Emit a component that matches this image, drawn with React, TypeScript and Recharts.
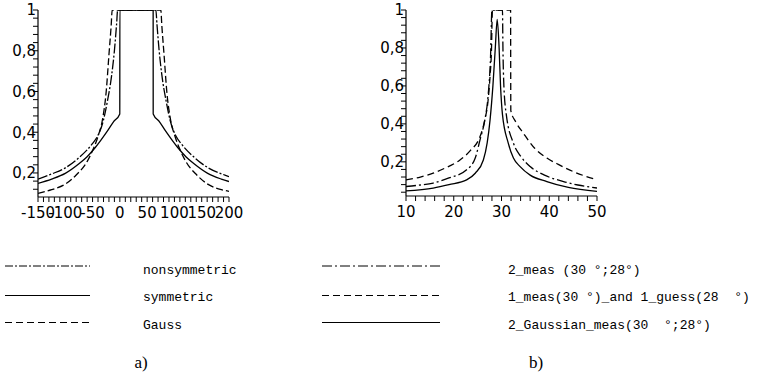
import React from 'react'
import { LineChart, Line, XAxis, YAxis } from 'recharts'

// ---- panel a) ----
const aNonsymmetric = [
  { x: -150, y: 0.17 }, { x: -125, y: 0.195 }, { x: -100, y: 0.225 }, { x: -75, y: 0.275 },
  { x: -50, y: 0.345 }, { x: -41, y: 0.38 }, { x: -30, y: 0.46 }, { x: -23, y: 0.55 },
  { x: -15, y: 0.68 }, { x: -10, y: 0.8 }, { x: -6, y: 0.93 }, { x: -4, y: 1 },
  { x: 66, y: 1 }, { x: 68, y: 0.93 }, { x: 72, y: 0.8 }, { x: 77, y: 0.68 },
  { x: 85, y: 0.55 }, { x: 92, y: 0.46 }, { x: 103, y: 0.38 }, { x: 112, y: 0.345 },
  { x: 137, y: 0.275 }, { x: 162, y: 0.225 }, { x: 187, y: 0.195 }, { x: 200, y: 0.182 },
]
const aSymmetric = [
  { x: -150, y: 0.149 }, { x: -125, y: 0.17 }, { x: -100, y: 0.198 }, { x: -75, y: 0.245 },
  { x: -60, y: 0.28 }, { x: -45, y: 0.325 }, { x: -35, y: 0.36 }, { x: -23, y: 0.405 },
  { x: -12, y: 0.45 }, { x: -0.1, y: 0.49 }, { x: 0, y: 1 }, { x: 61, y: 1 },
  { x: 61.1, y: 0.49 }, { x: 73, y: 0.45 }, { x: 84, y: 0.405 }, { x: 96, y: 0.36 },
  { x: 106, y: 0.325 }, { x: 121, y: 0.28 }, { x: 136, y: 0.245 }, { x: 161, y: 0.198 },
  { x: 186, y: 0.17 }, { x: 200, y: 0.158 },
]
const aGauss = [
  { x: -150, y: 0.1 }, { x: -125, y: 0.118 }, { x: -100, y: 0.145 }, { x: -80, y: 0.19 },
  { x: -60, y: 0.256 }, { x: -50, y: 0.31 }, { x: -40, y: 0.38 }, { x: -32, y: 0.46 },
  { x: -25, y: 0.6 }, { x: -20, y: 0.78 }, { x: -16, y: 0.92 }, { x: -14, y: 1 },
  { x: 75, y: 1 }, { x: 77, y: 0.92 }, { x: 81, y: 0.78 }, { x: 86, y: 0.6 },
  { x: 93, y: 0.46 }, { x: 101, y: 0.38 }, { x: 111, y: 0.31 }, { x: 121, y: 0.256 },
  { x: 141, y: 0.19 }, { x: 161, y: 0.145 }, { x: 186, y: 0.118 }, { x: 200, y: 0.11 },
]
const aXTicks = [
  -150, -140, -130, -120, -110, -100, -90, -80, -70, -60, -50, -40, -30, -20, -10, 0,
  10, 20, 30, 40, 50, 60, 70, 80, 90, 100, 110, 120, 130, 140, 150, 160, 170, 180, 190, 200,
]
const aXLabels = [-150, -100, -50, 0, 50, 100, 150, 200]

// ---- panel b) ----
const bTwoMeas = [
  { x: 10, y: 0.07 }, { x: 13, y: 0.078 }, { x: 15.7, y: 0.088 }, { x: 19, y: 0.115 },
  { x: 22.7, y: 0.158 }, { x: 24.5, y: 0.22 }, { x: 25.5, y: 0.316 }, { x: 26.5, y: 0.42 },
  { x: 27.2, y: 0.55 }, { x: 27.7, y: 0.75 }, { x: 28, y: 1 }, { x: 30.2, y: 1 },
  { x: 30.3, y: 0.8 }, { x: 30.5, y: 0.6 }, { x: 31, y: 0.45 }, { x: 32.5, y: 0.298 },
  { x: 34, y: 0.23 }, { x: 36, y: 0.175 }, { x: 39, y: 0.13 }, { x: 43, y: 0.096 },
  { x: 46, y: 0.078 }, { x: 50, y: 0.062 },
]
const bMeasGuess = [
  { x: 10, y: 0.105 }, { x: 13, y: 0.12 }, { x: 15.7, y: 0.14 }, { x: 18, y: 0.165 },
  { x: 21.3, y: 0.21 }, { x: 23.5, y: 0.26 }, { x: 25.5, y: 0.333 }, { x: 26.5, y: 0.42 },
  { x: 27.2, y: 0.526 }, { x: 27.6, y: 0.65 }, { x: 27.9, y: 0.79 }, { x: 28.1, y: 1 },
  { x: 31.9, y: 1 }, { x: 31.95, y: 0.47 }, { x: 33, y: 0.41 }, { x: 34.6, y: 0.35 },
  { x: 37, y: 0.27 }, { x: 39.5, y: 0.22 }, { x: 42, y: 0.185 }, { x: 45, y: 0.149 },
  { x: 47.5, y: 0.125 }, { x: 50, y: 0.105 },
]
const bGaussian = [
  { x: 10, y: 0.047 }, { x: 15.7, y: 0.062 }, { x: 19, y: 0.08 }, { x: 22.7, y: 0.105 },
  { x: 24.5, y: 0.14 }, { x: 26.2, y: 0.21 }, { x: 27, y: 0.3 }, { x: 27.6, y: 0.42 },
  { x: 28.2, y: 0.6 }, { x: 28.7, y: 0.8 }, { x: 29.1, y: 0.95 }, { x: 29.5, y: 0.8 },
  { x: 29.8, y: 0.6 }, { x: 30.2, y: 0.45 }, { x: 31.4, y: 0.3 }, { x: 32.5, y: 0.22 },
  { x: 33.9, y: 0.175 }, { x: 36, y: 0.13 }, { x: 39.5, y: 0.096 }, { x: 44, y: 0.065 },
  { x: 50, y: 0.044 },
]
const bXTicks = [10, 12, 14, 16, 18, 20, 22, 24, 26, 28, 30, 32, 34, 36, 38, 40, 42, 44, 46, 48, 50]
const bXLabels = [10, 20, 30, 40, 50]

const yTicksA = [0.12, 0.16, 0.2, 0.24, 0.28, 0.32, 0.36, 0.4, 0.44, 0.48, 0.52, 0.56, 0.6, 0.64, 0.68, 0.72, 0.76, 0.8, 0.84, 0.88, 0.92, 0.96, 1]
const yTicksB = [0.04, 0.08, 0.12, 0.16, 0.2, 0.24, 0.28, 0.32, 0.36, 0.4, 0.44, 0.48, 0.52, 0.56, 0.6, 0.64, 0.68, 0.72, 0.76, 0.8, 0.84, 0.88, 0.92, 0.96, 1]
const yLabels = [0.2, 0.4, 0.6, 0.8, 1]

const legendA = ['nonsymmetric', 'symmetric', 'Gauss']
const legendB = ['2_meas (30 °;28°)', '1_meas(30 °)_and 1_guess(28  °)', '2_Gaussian_meas(30  °;28°)']

const DASH_DOT_A = '10 2 2 2'
const DASH_A = '7 3'
const DASH_DOT_B = '10 3 2 3'
const DASH_B = '7 4'

const tickFont = { fontSize: 15, fontFamily: 'DejaVu Sans', fill: '#000' }

const isLabel = (v: number, list: number[]) => list.some((l) => Math.abs(l - v) < 1e-6)
const fmtY = (v: number) => (isLabel(v, yLabels) ? (v === 1 ? '1' : v.toFixed(1).replace('.', ',')) : '')

function Panel(props: {
  left: number
  xDomain: [number, number]
  yDomain: [number, number]
  xTicks: number[]
  xLabels: number[]
  yTicks: number[]
  xHeight: number
  series: { data: { x: number; y: number }[]; dash?: string }[]
}) {
  const { left, xDomain, yDomain, xTicks, xLabels, yTicks, xHeight, series } = props
  return (
    <div style={{ position: 'absolute', left, top: 0 }}>
      <LineChart width={260} height={230} margin={{ top: 10, right: 31, bottom: 0, left: 0 }}>
        <XAxis
          type="number"
          dataKey="x"
          domain={xDomain}
          allowDataOverflow
          ticks={xTicks}
          interval={0}
          tickFormatter={(v: number) => (isLabel(v, xLabels) ? String(v) : '')}
          height={xHeight}
          tickSize={5}
          tickMargin={5}
          tick={tickFont}
          axisLine={{ stroke: '#000', strokeWidth: 1.2 }}
          tickLine={{ stroke: '#000' }}
        />
        <YAxis
          type="number"
          dataKey="y"
          domain={yDomain}
          allowDataOverflow
          ticks={yTicks}
          interval={0}
          tickFormatter={fmtY}
          width={38}
          tickSize={5}
          tickMargin={-3}
          tick={tickFont}
          axisLine={{ stroke: '#000', strokeWidth: 1.2 }}
          tickLine={{ stroke: '#000' }}
        />
        {series.map((s, i) => (
          <Line
            key={i}
            data={s.data}
            dataKey="y"
            type="monotone"
            stroke="#000"
            strokeWidth={1.3}
            strokeDasharray={s.dash}
            dot={false}
            activeDot={false}
            isAnimationActive={false}
          />
        ))}
      </LineChart>
    </div>
  )
}

export default function App() {
  const mono = { fontFamily: 'Liberation Mono', fontSize: 13, fill: '#000' }
  const rowsLine = [266, 295.5, 322.5]
  const rowsText = [270, 297.5, 325]
  const dashA = ['8 2 2 2', undefined, '7 4']
  const dashB = [DASH_DOT_B, DASH_B, undefined]
  return (
    <div style={{ position: 'absolute', left: 0, top: 0, width: 758, height: 375, background: '#fff' }}>
      <Panel
        left={0}
        xDomain={[-150, 200]}
        yDomain={[0.082, 1]}
        xTicks={aXTicks}
        xLabels={aXLabels}
        yTicks={yTicksA}
        xHeight={33}
        series={[
          { data: aNonsymmetric, dash: DASH_DOT_A },
          { data: aSymmetric },
          { data: aGauss, dash: DASH_A },
        ]}
      />
      <Panel
        left={368}
        xDomain={[10, 50]}
        yDomain={[0.02, 1]}
        xTicks={bXTicks}
        xLabels={bXLabels}
        yTicks={yTicksB}
        xHeight={34}
        series={[
          { data: bTwoMeas, dash: DASH_DOT_B },
          { data: bMeasGuess, dash: DASH_B },
          { data: bGaussian },
        ]}
      />
      <svg width={758} height={375} style={{ position: 'absolute', left: 0, top: 0, pointerEvents: 'none' }}>
        {legendA.map((label, i) => (
          <g key={label}>
            <line x1={5} x2={90} y1={rowsLine[i]} y2={rowsLine[i]} stroke="#000" strokeWidth={1} strokeDasharray={dashA[i]} />
            <text x={143} y={rowsText[i]} dominantBaseline="central" style={{ ...mono, whiteSpace: 'pre' }}>
              {label}
            </text>
          </g>
        ))}
        {legendB.map((label, i) => (
          <g key={label}>
            <line x1={322} x2={440} y1={rowsLine[i]} y2={rowsLine[i]} stroke="#000" strokeWidth={1} strokeDasharray={dashB[i]} />
            <text x={508} y={rowsText[i]} dominantBaseline="central" style={{ ...mono, whiteSpace: 'pre' }}>
              {label}
            </text>
          </g>
        ))}
        <text x={141} y={362} textAnchor="middle" dominantBaseline="central" style={{ fontFamily: 'Liberation Serif', fontSize: 17 }}>
          a)
        </text>
        <text x={536} y={362} textAnchor="middle" dominantBaseline="central" style={{ fontFamily: 'Liberation Serif', fontSize: 17 }}>
          b)
        </text>
      </svg>
    </div>
  )
}
